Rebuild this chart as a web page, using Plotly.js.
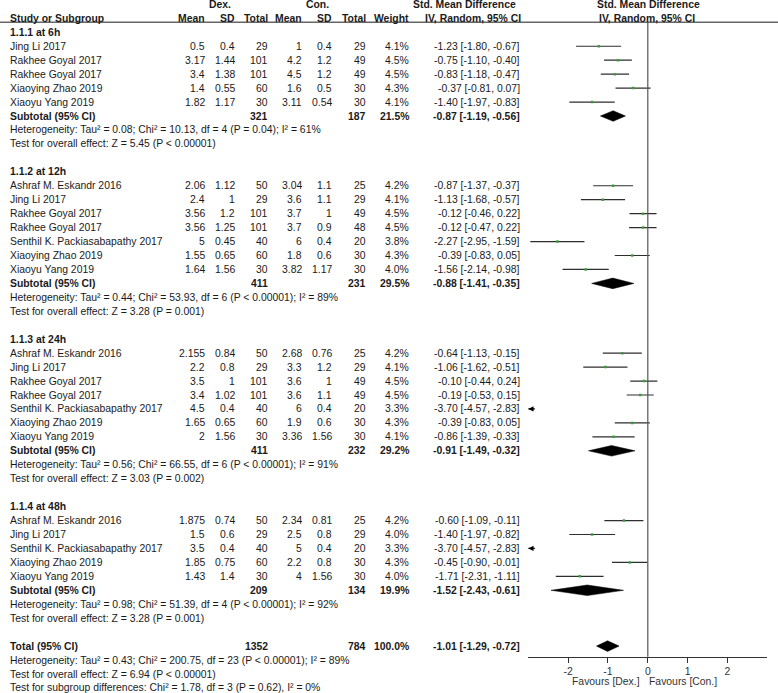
<!DOCTYPE html>
<html>
<head>
<meta charset="utf-8">
<script src="https://cdn.plot.ly/plotly-3.0.1.min.js"></script>
<style>html,body{margin:0;padding:0;background:#fff;}#chart{width:778px;height:693px;}</style>
</head>
<body>
<div id="chart"></div>
<script>
// ---------------- DATA ----------------
const groupLabels = ["1.1.1 at 6h", "1.1.2 at 12h", "1.1.3 at 24h", "1.1.4 at 48h"];
const studyGroup = [0,0,0,0,0, 1,1,1,1,1,1,1, 2,2,2,2,2,2,2, 3,3,3,3,3];
const studyNames = [
  "Jing Li 2017","Rakhee Goyal 2017","Rakhee Goyal 2017","Xiaoying Zhao 2019","Xiaoyu Yang 2019",
  "Ashraf M. Eskandr 2016","Jing Li 2017","Rakhee Goyal 2017","Rakhee Goyal 2017","Senthil K. Packiasabapathy 2017","Xiaoying Zhao 2019","Xiaoyu Yang 2019",
  "Ashraf M. Eskandr 2016","Jing Li 2017","Rakhee Goyal 2017","Rakhee Goyal 2017","Senthil K. Packiasabapathy 2017","Xiaoying Zhao 2019","Xiaoyu Yang 2019",
  "Ashraf M. Eskandr 2016","Jing Li 2017","Senthil K. Packiasabapathy 2017","Xiaoying Zhao 2019","Xiaoyu Yang 2019"
];
const dexMean = [0.5,3.17,3.4,1.4,1.82, 2.06,2.4,3.56,3.56,5,1.55,1.64, 2.155,2.2,3.5,3.4,4.5,1.65,2, 1.875,1.5,3.5,1.85,1.43];
const dexSD   = [0.4,1.44,1.38,0.55,1.17, 1.12,1,1.2,1.25,0.45,0.65,1.56, 0.84,0.8,1,1.02,0.4,0.65,1.56, 0.74,0.6,0.4,0.75,1.4];
const dexN    = [29,101,101,60,30, 50,29,101,101,40,60,30, 50,29,101,101,40,60,30, 50,29,40,60,30];
const conMean = [1,4.2,4.5,1.6,3.11, 3.04,3.6,3.7,3.7,6,1.8,3.82, 2.68,3.3,3.6,3.6,6,1.9,3.36, 2.34,2.5,5,2.2,4];
const conSD   = [0.4,1.2,1.2,0.5,0.54, 1.1,1.1,1,0.9,0.4,0.6,1.17, 0.76,1.2,1,1.1,0.4,0.6,1.56, 0.81,0.8,0.4,0.8,1.56];
const conN    = [29,49,49,30,30, 25,29,49,48,20,30,30, 25,29,49,49,20,30,30, 25,29,20,30,30];
const weightPct = [4.1,4.5,4.5,4.3,4.1, 4.2,4.1,4.5,4.5,3.8,4.3,4.0, 4.2,4.1,4.5,4.5,3.3,4.3,4.1, 4.2,4.0,3.3,4.3,4.0];
const smd    = [-1.23,-0.75,-0.83,-0.37,-1.40, -0.87,-1.13,-0.12,-0.12,-2.27,-0.39,-1.56, -0.64,-1.06,-0.10,-0.19,-3.70,-0.39,-0.86, -0.60,-1.40,-3.70,-0.45,-1.71];
const ciLow  = [-1.80,-1.10,-1.18,-0.81,-1.97, -1.37,-1.68,-0.46,-0.47,-2.95,-0.83,-2.14, -1.13,-1.62,-0.44,-0.53,-4.57,-0.83,-1.39, -1.09,-1.97,-4.57,-0.90,-2.31];
const ciHigh = [-0.67,-0.40,-0.47,0.07,-0.83, -0.37,-0.57,0.22,0.22,-1.59,0.05,-0.98, -0.15,-0.51,0.24,0.15,-2.83,0.05,-0.33, -0.11,-0.82,-2.83,-0.01,-1.11];

const subDexN   = [321,411,411,209];
const subConN   = [187,231,232,134];
const subWeight = [21.5,29.5,29.2,19.9];
const subSmd    = [-0.87,-0.88,-0.91,-1.52];
const subLow    = [-1.19,-1.41,-1.49,-2.43];
const subHigh   = [-0.56,-0.35,-0.32,-0.61];
const subHeterogeneity = [
  "Heterogeneity: Tau² = 0.08; Chi² = 10.13, df = 4 (P = 0.04); I² = 61%",
  "Heterogeneity: Tau² = 0.44; Chi² = 53.93, df = 6 (P < 0.00001); I² = 89%",
  "Heterogeneity: Tau² = 0.56; Chi² = 66.55, df = 6 (P < 0.00001); I² = 91%",
  "Heterogeneity: Tau² = 0.98; Chi² = 51.39, df = 4 (P < 0.00001); I² = 92%"
];
const subOverall = [
  "Test for overall effect: Z = 5.45 (P < 0.00001)",
  "Test for overall effect: Z = 3.28 (P = 0.001)",
  "Test for overall effect: Z = 3.03 (P = 0.002)",
  "Test for overall effect: Z = 3.28 (P = 0.001)"
];
const totalDexN = 1352, totalConN = 784, totalWeight = 100.0;
const totalSmd = -1.01, totalLow = -1.29, totalHigh = -0.72;
const totalHeterogeneity = "Heterogeneity: Tau² = 0.43; Chi² = 200.75, df = 23 (P < 0.00001); I² = 89%";
const totalOverall = "Test for overall effect: Z = 6.94 (P < 0.00001)";
const subgroupTest = "Test for subgroup differences: Chi² = 1.78, df = 3 (P = 0.62), I² = 0%";
const xTickVals = [-2,-1,0,1,2];
const xTickText = ["-2","-1","0","1","2"];
const axisRange = [-3, 3];
const favourLeft = "Favours [Dex.]", favourRight = "Favours [Con.]";

// ---------------- LAYOUT GEOMETRY ----------------
const W = 778, H = 693;
const rowPitch = 13.95, rowOffset = 4.4;          // pixel y of row k = rowOffset + rowPitch*k
const pxToRow = p => (p - rowOffset) / rowPitch;
const axisPx = 656.7, headerLinePx = 22.3;
const plotLeftPx = 528.3, plotRightPx = 767.3;
const FONT = "Liberation Sans, Arial, sans-serif";
const FS = 10.4;
const TXT = "#1a1a1a";
const col = {name:10, dexMean:205, dexSD:235, dexN:268, conMean:302, conSD:332, conN:366, weight:409, ci:519.5};

const esc = s => String(s).replace(/&/g,"&amp;").replace(/</g,"&lt;").replace(/>/g,"&gt;");
const annotations = [];
function txt(px, row, text, anchor, bold, extra) {
  const t = esc(text);
  annotations.push(Object.assign({
    xref:"paper", yref:"y", x: px / W, y: row, xanchor: anchor, yanchor:"middle",
    text: bold ? "<b>" + t + "</b>" : t, showarrow:false, borderpad:0, borderwidth:0,
    font:{family:FONT, size:FS, color:TXT}
  }, extra || {}));
}
const f2 = v => v.toFixed(2);
const ciStr = (e,l,h) => f2(e) + " [" + f2(l) + ", " + f2(h) + "]";

// headers
txt(219.5, 0, "Dex.", "center", true);
txt(317, 0, "Con.", "center", true);
txt(464, 0, "Std. Mean Difference", "center", true);
txt(648, 0, "Std. Mean Difference", "center", true);
txt(col.name, 1, "Study or Subgroup", "left", true);
txt(col.dexMean, 1, "Mean", "right", true);
txt(col.dexSD, 1, "SD", "right", true);
txt(col.dexN, 1, "Total", "right", true);
txt(col.conMean, 1, "Mean", "right", true);
txt(col.conSD, 1, "SD", "right", true);
txt(col.conN, 1, "Total", "right", true);
txt(col.weight, 1, "Weight", "right", true);
txt(473, 1, "IV, Random, 95% CI", "center", true);
txt(647, 1, "IV, Random, 95% CI", "center", true);

// body rows
const studyRows = [], subRows = [];
let r = 2;
for (let g = 0; g < groupLabels.length; g++) {
  txt(col.name, r, groupLabels[g], "left", true); r++;
  for (let i = 0; i < studyNames.length; i++) {
    if (studyGroup[i] !== g) continue;
    studyRows[i] = r;
    txt(col.name, r, studyNames[i], "left", false);
    txt(col.dexMean, r, String(dexMean[i]), "right", false);
    txt(col.dexSD, r, String(dexSD[i]), "right", false);
    txt(col.dexN, r, String(dexN[i]), "right", false);
    txt(col.conMean, r, String(conMean[i]), "right", false);
    txt(col.conSD, r, String(conSD[i]), "right", false);
    txt(col.conN, r, String(conN[i]), "right", false);
    txt(col.weight, r, weightPct[i].toFixed(1) + "%", "right", false);
    txt(col.ci, r, ciStr(smd[i], ciLow[i], ciHigh[i]), "right", false);
    r++;
  }
  subRows[g] = r;
  txt(col.name, r, "Subtotal (95% CI)", "left", true);
  txt(col.dexN, r, String(subDexN[g]), "right", true);
  txt(col.conN, r, String(subConN[g]), "right", true);
  txt(col.weight, r, subWeight[g].toFixed(1) + "%", "right", true);
  txt(col.ci, r, ciStr(subSmd[g], subLow[g], subHigh[g]), "right", true);
  r++;
  txt(col.name, r, subHeterogeneity[g], "left", false); r++;
  txt(col.name, r, subOverall[g], "left", false); r++;
  r++;
}
const totalRow = r;
txt(col.name, r, "Total (95% CI)", "left", true);
txt(col.dexN, r, String(totalDexN), "right", true);
txt(col.conN, r, String(totalConN), "right", true);
txt(col.weight, r, totalWeight.toFixed(1) + "%", "right", true);
txt(col.ci, r, ciStr(totalSmd, totalLow, totalHigh), "right", true);
r++;
txt(col.name, r, totalHeterogeneity, "left", false); r++;
txt(col.name, r, totalOverall, "left", false); r++;
txt(col.name, r, subgroupTest, "left", false);

// favours labels
const favRow = pxToRow(681.7);
txt(640, favRow, favourLeft, "right", false, {font:{family:FONT, size:FS, color:"#333"}});
txt(649, favRow, favourRight, "left", false, {font:{family:FONT, size:FS, color:"#333"}});

// arrows for CIs that leave the axis range
for (let i = 0; i < studyNames.length; i++) {
  if (ciLow[i] < axisRange[0]) {
    annotations.push({
      xref:"x", yref:"y", axref:"x", ayref:"y",
      x: axisRange[0], y: studyRows[i], ax: Math.min(ciHigh[i], axisRange[1]), ay: studyRows[i],
      text:"", showarrow:true, arrowhead:2, arrowsize:0.8, arrowwidth:1.3, arrowcolor:"#000", standoff:0
    });
  }
}

// ---------------- TRACES ----------------
const traces = [];
const lx = [], ly = [];
for (let i = 0; i < studyNames.length; i++) {
  lx.push(ciLow[i], ciHigh[i], null);
  ly.push(studyRows[i], studyRows[i], null);
}
traces.push({type:"scatter", mode:"lines", x:lx, y:ly, line:{color:"#2e2e2e", width:1.2}, hoverinfo:"skip"});
traces.push({type:"scatter", mode:"markers", x:smd, y:studyRows,
  marker:{symbol:"square", size:2.5, color:"#3c9c3c", line:{width:0}}, hoverinfo:"x"});

const halfH = 0.38;
function diamond(e, l, h, row) {
  traces.push({type:"scatter", mode:"lines", x:[l, e, h, e, l], y:[row, row - halfH, row, row + halfH, row],
    fill:"toself", fillcolor:"#000", line:{color:"#000", width:0.5}, hoverinfo:"skip"});
}
for (let g = 0; g < subSmd.length; g++) diamond(subSmd[g], subLow[g], subHigh[g], subRows[g]);
diamond(totalSmd, totalLow, totalHigh, totalRow);

// ---------------- LAYOUT ----------------
const layout = {
  width: W, height: H,
  margin:{l:0, r:0, t:0, b:0},
  paper_bgcolor:"#fff", plot_bgcolor:"rgba(0,0,0,0)",
  showlegend:false,
  font:{family:FONT, size:FS, color:TXT},
  xaxis:{
    domain:[plotLeftPx / W, plotRightPx / W], range:axisRange,
    anchor:"free", position:(H - axisPx) / H,
    showline:true, linecolor:"#333", linewidth:1,
    ticks:"outside", ticklen:5, tickwidth:1, tickcolor:"#333",
    tickvals:xTickVals, ticktext:xTickText,
    tickfont:{family:FONT, size:FS, color:"#333"},
    showgrid:false, zeroline:false, fixedrange:true
  },
  yaxis:{
    domain:[0, 1], range:[pxToRow(H), pxToRow(0)],
    visible:false, showgrid:false, zeroline:false, fixedrange:true
  },
  shapes:[
    {type:"line", xref:"paper", yref:"y", x0:0, x1:1, y0:pxToRow(headerLinePx), y1:pxToRow(headerLinePx),
     line:{color:"#666", width:1.5}},
    {type:"line", xref:"x", yref:"y", x0:0, x1:0, y0:pxToRow(headerLinePx), y1:pxToRow(axisPx),
     line:{color:"#555", width:1.2}}
  ],
  annotations: annotations
};

Plotly.newPlot("chart", traces, layout, {displayModeBar:false, staticPlot:true});
</script>
</body>
</html>
